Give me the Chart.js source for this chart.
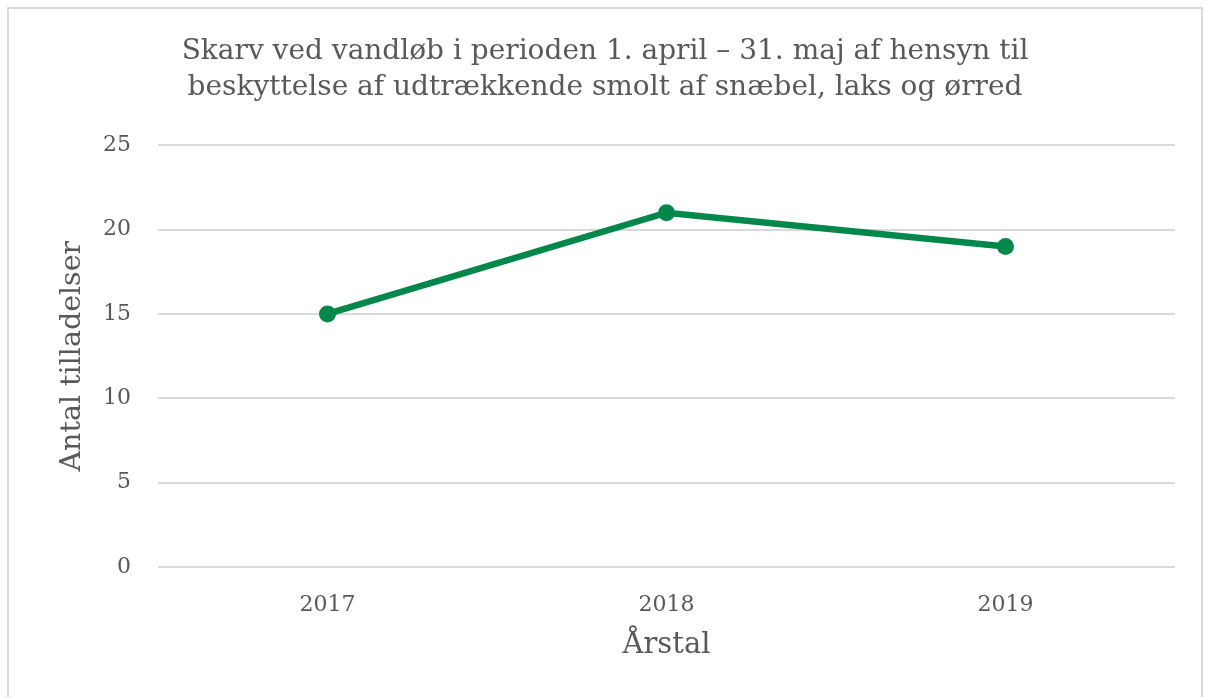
<!DOCTYPE html>
<html>

<head>
    <script src="https://cdn.jsdelivr.net/npm/chart.js"></script>
    <style>
        body {
            margin: 0;
            background-color: white;
        }
        /* light grey frame round the chart, bottom edge runs off the window */
        .frame {
            position: absolute;
            left: 7px;
            top: 7px;
            width: 1196px;
            height: 700px;
            border: 2px solid #d9d9d9;
            box-sizing: border-box;
        }
        .frame canvas {
            position: absolute;
            left: 0;
            top: 0;
        }
    </style>
</head>

<body>
    <div class="frame">
        <canvas id="myChart" width="1192" height="688" style="width: 1192px; height: 688px;"></canvas>
    </div>

    <script>
        const years = ['2017', '2018', '2019'];
        const permits = [15, 21, 19];

        const titleLines = [
            'Skarv ved vandløb i perioden 1. april – 31. maj af hensyn til',
            'beskyttelse af udtrækkende smolt af snæbel, laks og ørred'
        ];
        const xTitle = 'Årstal';
        const yTitle = 'Antal tilladelser';

        const textColor = '#595959';
        const gridColor = '#d9d9d9';
        const lineColor = '#00884b';
        const serif = "'DejaVu Serif', Georgia, serif";

        const chart = new Chart('myChart', {
            type: 'line',
            data: {
                labels: years,
                datasets: [{
                    data: permits,
                    borderColor: lineColor,
                    backgroundColor: lineColor,
                    borderWidth: 6.5,
                    pointRadius: 8.5,
                    pointHoverRadius: 8.5,
                    pointBorderWidth: 0,
                    tension: 0,
                    fill: false
                }]
            },
            options: {
                responsive: false,
                animation: false,
                layout: {
                    padding: { left: 26, right: 26, top: 0, bottom: 0 }
                },
                plugins: {
                    legend: { display: false },
                    tooltip: { enabled: false },
                    title: {
                        display: true,
                        text: titleLines,
                        color: textColor,
                        font: { family: serif, size: 28, weight: 'normal', lineHeight: 1.29 },
                        padding: { top: 25, bottom: 39 }
                    }
                },
                scales: {
                    x: {
                        offset: true,
                        grid: { display: false, drawTicks: false },
                        border: { display: false },
                        ticks: {
                            color: textColor,
                            font: { family: serif, size: 22 },
                            padding: 25
                        },
                        title: {
                            display: true,
                            text: xTitle,
                            color: textColor,
                            font: { family: serif, size: 29 },
                            padding: { top: 0, bottom: 34 }
                        },
                        afterFit: (scale) => { scale.height = 130; }
                    },
                    y: {
                        min: 0,
                        max: 25,
                        grid: {
                            color: gridColor,
                            lineWidth: 2,
                            drawTicks: false
                        },
                        border: { display: false },
                        ticks: {
                            stepSize: 5,
                            color: textColor,
                            font: { family: serif, size: 22 },
                            padding: 27
                        },
                        title: {
                            display: true,
                            text: yTitle,
                            color: textColor,
                            font: { family: serif, size: 28.5 },
                            padding: { top: 20, bottom: 0 }
                        },
                        afterFit: (scale) => { scale.width = 123; }
                    }
                }
            }
        });
    </script>
</body>
</html>
